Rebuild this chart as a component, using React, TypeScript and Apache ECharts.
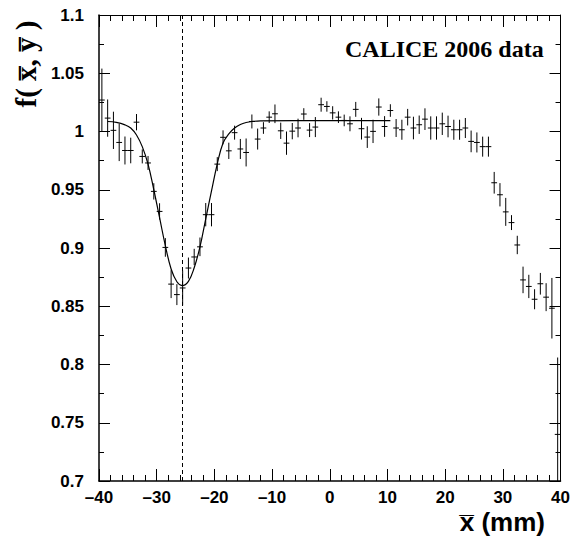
import React, { useEffect, useRef } from "react";
import * as echarts from "echarts";

// bin centres (mm)
const xCenters = [
  -39.5, -38.5, -37.5, -36.5, -35.5, -34.5, -33.5, -32.5, -31.5, -30.5,
  -29.5, -28.5, -27.5, -26.5, -25.5, -24.5, -23.5, -22.5, -21.5, -20.5,
  -19.5, -18.5, -17.5, -16.5, -15.5, -14.5, -13.5, -12.5, -11.5, -10.5,
  -9.5, -8.5, -7.5, -6.5, -5.5, -4.5, -3.5, -2.5, -1.5, -0.5,
  0.5, 1.5, 2.5, 3.5, 4.5, 5.5, 6.5, 7.5, 8.5, 9.5,
  10.5, 11.5, 12.5, 13.5, 14.5, 15.5, 16.5, 17.5, 18.5, 19.5,
  20.5, 21.5, 22.5, 23.5, 24.5, 25.5, 26.5, 27.5, 28.5, 29.5,
  30.5, 31.5, 32.5, 33.5, 34.5, 35.5, 36.5, 37.5, 38.5, 39.5,
];

// measured f(x,y)
const yValues = [
  1.027, 1.0115, 1.001, 0.9906, 0.9837, 0.9837, 1.008, 0.9786, 0.973, 0.9486,
  0.9314, 0.9005, 0.869, 0.86, 0.8657, 0.8828, 0.8923, 0.901, 0.9286, 0.9286,
  0.972, 0.995, 0.9834, 0.999, 0.985, 0.982, 1.0086, 0.9935, 1.003, 1.0123,
  1.0152, 1.0006, 0.99, 1.0003, 1.003, 1.015, 1.0012, 1.0038, 1.023, 1.0215,
  1.016, 1.0123, 1.0095, 1.0066, 1.019, 1.0024, 0.9952, 1.0001, 1.021, 1.0043,
  1.018, 1.003, 1.0015, 1.0123, 1.003, 1.0058, 1.0106, 1.003, 1.003, 1.0066,
  1.0043, 1.0015, 1.0015, 1.003, 0.9915, 0.9906, 0.987, 0.987, 0.956, 0.9457,
  0.931, 0.9218, 0.9026, 0.8726, 0.867, 0.856, 0.8693, 0.8578, 0.8483, 0.74,
];

// statistical errors
const yErrors = [
  0.027, 0.016, 0.016, 0.016, 0.012, 0.011, 0.007, 0.006, 0.006, 0.007,
  0.007, 0.008, 0.012, 0.009, 0.015, 0.009, 0.007, 0.008, 0.01, 0.01,
  0.006, 0.006, 0.007, 0.006, 0.0086, 0.012, 0.006, 0.009, 0.005, 0.005,
  0.008, 0.007, 0.01, 0.007, 0.008, 0.005, 0.006, 0.0086, 0.006, 0.0045,
  0.0057, 0.005, 0.005, 0.0064, 0.0064, 0.0093, 0.0093, 0.01, 0.0074, 0.0089,
  0.0054, 0.0077, 0.0086, 0.0071, 0.0097, 0.0079, 0.0093, 0.01, 0.01, 0.0096,
  0.0093, 0.0086, 0.0086, 0.0086, 0.0093, 0.0086, 0.0086, 0.0086, 0.0093, 0.01,
  0.012, 0.0064, 0.0079, 0.0114, 0.01, 0.0086, 0.0093, 0.012, 0.026, 0.066,
];

// fit curve
const fitX = [
  -38.5, -37, -35.5, -34.5, -33.5, -32.5, -31.5, -30.5, -29.5, -28.5,
  -27.5, -26.5, -25.6, -24.5, -23.5, -22.5, -21.5, -20.5, -19.5, -18.5,
  -17.5, -16.5, -15.5, -14.5, -13.5, -12, 0, 10.5,
];
const fitY = [
  1.0086, 1.0078, 1.0057, 1.003, 0.997, 0.987, 0.972, 0.95, 0.926, 0.902,
  0.882, 0.871, 0.8677, 0.8714, 0.883, 0.901, 0.925, 0.949, 0.9723, 0.9901,
  0.998, 1.003, 1.006, 1.0077, 1.0086, 1.0092, 1.0094, 1.0094,
];

const minimumX = -25.6;

const xTicks = { min: -40, max: 40, interval: 10 };
const yTicks = { min: 0.7, max: 1.1, interval: 0.05 };

const SANS = '"Liberation Sans", Arial, sans-serif';
const SERIF = '"Liberation Serif", "Times New Roman", serif';

export default function App() {
  const ref = useRef<HTMLDivElement>(null);

  useEffect(() => {
    if (!ref.current) return;
    const chart = echarts.init(ref.current, undefined, { renderer: "svg" });

    const points = xCenters.map((x, i) => [x, yValues[i], yErrors[i]]);
    const fit = fitX.map((x, i) => [x, fitY[i]]);

    const fmtX = (v: number) => (v < 0 ? "\u2013" + Math.abs(v) : String(v));
    const fmtY = (v: number) => String(+v.toFixed(2));

    const baseX = {
      type: "value" as const,
      min: xTicks.min,
      max: xTicks.max,
      interval: xTicks.interval,
      splitLine: { show: false },
      axisLine: { show: true, onZero: false, lineStyle: { color: "#000", width: 1.5 } },
      axisTick: { show: true, inside: true, length: 12, lineStyle: { color: "#000", width: 1 } },
      minorTick: { show: true, splitNumber: 5, length: 6, lineStyle: { color: "#000", width: 1 } },
    };
    const baseY = {
      type: "value" as const,
      min: yTicks.min,
      max: yTicks.max,
      interval: yTicks.interval,
      splitLine: { show: false },
      axisLine: { show: true, onZero: false, lineStyle: { color: "#000", width: 1.5 } },
      axisTick: { show: true, inside: true, length: 11, lineStyle: { color: "#000", width: 1 } },
      minorTick: { show: true, splitNumber: 2, length: 5, lineStyle: { color: "#000", width: 1 } },
    };

    chart.setOption({
      animation: false,
      backgroundColor: "#fff",
      grid: { left: 99, right: 9, top: 15, bottom: 56, containLabel: false },
      xAxis: [
        {
          ...baseX,
          position: "bottom",
          axisLabel: {
            show: true,
            margin: 8,
            color: "#000",
            fontFamily: SANS,
            fontWeight: "bold",
            fontSize: 17,
            formatter: fmtX,
          },
        },
        {
          ...baseX,
          position: "top",
          axisLine: { show: true, onZero: false, lineStyle: { color: "#000", width: 1 } },
          axisLabel: { show: false },
        },
      ],
      yAxis: [
        {
          ...baseY,
          position: "left",
          axisLabel: {
            show: true,
            margin: 15,
            color: "#000",
            fontFamily: SANS,
            fontWeight: "bold",
            fontSize: 17,
            formatter: fmtY,
          },
        },
        {
          ...baseY,
          position: "right",
          axisLine: { show: true, onZero: false, lineStyle: { color: "#000", width: 1 } },
          axisLabel: { show: false },
        },
      ],
      series: [
        {
          type: "line",
          data: fit,
          xAxisIndex: 0,
          yAxisIndex: 0,
          smooth: 0.4,
          showSymbol: false,
          symbol: "none",
          lineStyle: { color: "#000", width: 1.2 },
          markLine: {
            silent: true,
            symbol: ["none", "none"],
            label: { show: false },
            lineStyle: { color: "#000", width: 1, type: [4, 3] },
            data: [{ xAxis: minimumX }],
          },
          z: 3,
        },
        {
          type: "custom",
          xAxisIndex: 0,
          yAxisIndex: 0,
          clip: true,
          data: points,
          encode: { x: 0, y: 1 },
          renderItem: (_params: any, api: any) => {
            const x = api.value(0);
            const y = api.value(1);
            const e = api.value(2);
            const c = api.coord([x, y]);
            const l = api.coord([x - 0.5, y]);
            const r = api.coord([x + 0.5, y]);
            const t = api.coord([x, y + e]);
            const b = api.coord([x, y - e]);
            const st = { stroke: "#000", lineWidth: 1 };
            return {
              type: "group",
              children: [
                { type: "line", shape: { x1: l[0], y1: c[1], x2: r[0], y2: c[1] }, style: st },
                { type: "line", shape: { x1: c[0], y1: t[1], x2: c[0], y2: b[1] }, style: st },
              ],
            };
          },
          z: 4,
        },
      ],
      graphic: [
        {
          type: "text",
          x: 345,
          y: 49,
          style: {
            text: "CALICE 2006 data",
            fill: "#000",
            font: `bold 24px ${SERIF}`,
            align: "left",
            verticalAlign: "middle",
          },
        },
        {
          type: "text",
          x: 26,
          y: 64,
          rotation: Math.PI / 2,
          style: {
            text: "f( x\u0305, y\u0305 )",
            fill: "#000",
            font: `bold 29px ${SERIF}`,
            align: "center",
            verticalAlign: "middle",
          },
        },
        {
          type: "text",
          x: 545,
          y: 522,
          style: {
            text: "x\u0305 (mm)",
            fill: "#000",
            font: `bold 26px ${SANS}`,
            align: "right",
            verticalAlign: "middle",
          },
        },
      ],
    });

    return () => chart.dispose();
  }, []);

  return (
    <div
      ref={ref}
      style={{ position: "fixed", left: 0, top: 0, width: 573, height: 537 }}
    />
  );
}
